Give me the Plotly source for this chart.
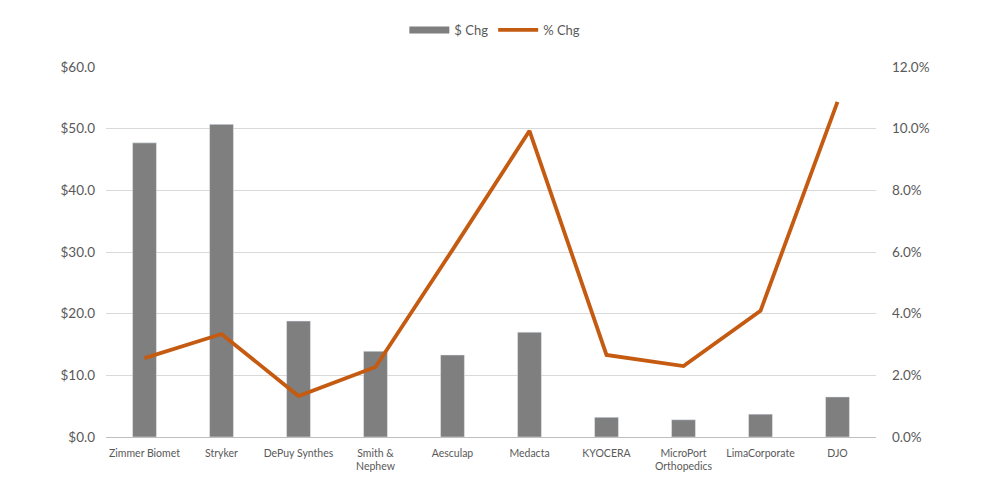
import plotly.graph_objects as go

companies = ["Zimmer Biomet", "Stryker", "DePuy Synthes", "Smith &<br>Nephew", "Aesculap",
             "Medacta", "KYOCERA", "MicroPort<br>Orthopedics", "LimaCorporate", "DJO"]
dollar_chg = [47.7, 50.7, 18.8, 13.9, 13.3, 17.0, 3.2, 2.8, 3.7, 6.5]
pct_chg = [0.0256, 0.0334, 0.0133, 0.0227, 0.0607, 0.0993, 0.0266, 0.0230, 0.0409, 0.1087]

BAR = "#7F7F7F"
LINE = "#C55A11"
TXT = "#595959"

fig = go.Figure()
fig.add_trace(go.Bar(x=companies, y=dollar_chg, name="$ Chg", marker_color=BAR,
                     yaxis="y", showlegend=False))
# legend-only entry drawn as a thick gray band like the reference
fig.add_trace(go.Scatter(x=[None], y=[None], name="$ Chg", mode="lines",
                         line=dict(color=BAR, width=7), yaxis="y"))
fig.add_trace(go.Scatter(x=companies, y=pct_chg, name="% Chg", mode="lines",
                         line=dict(color=LINE, width=3.8), yaxis="y2"))

# page body has an 8px margin, so figure coords are offset by 8px
fig.update_layout(
    width=984, height=471,
    margin=dict(l=98, r=116, t=59, b=42, autoexpand=False),
    paper_bgcolor="white", plot_bgcolor="white",
    font=dict(family="Lato", color=TXT, size=12),
    bargap=0.69,
    showlegend=True,
    legend=dict(orientation="h", x=0.505, xanchor="center", y=1.1, yanchor="middle",
                font=dict(size=13, color=TXT), itemwidth=40, tracegroupgap=10),
    xaxis=dict(showgrid=False, showline=True, linecolor="#BFBFBF", linewidth=1,
               ticks="", ticklabelstandoff=6, tickfont=dict(size=10.5, color=TXT)),
    yaxis=dict(range=[0, 60], dtick=10, tickprefix="$", tickformat=".1f",
               showgrid=True, gridcolor="#D9D9D9", gridwidth=1, zeroline=False,
               ticks="", ticklabelstandoff=10, tickfont=dict(size=13.5, color=TXT)),
    yaxis2=dict(range=[0, 0.12], dtick=0.02, tickformat=".1%", overlaying="y", side="right",
                showgrid=False, zeroline=False, ticks="", ticklabelstandoff=15,
                tickfont=dict(size=13.5, color=TXT)),
)

fig.write_html("out.html")
